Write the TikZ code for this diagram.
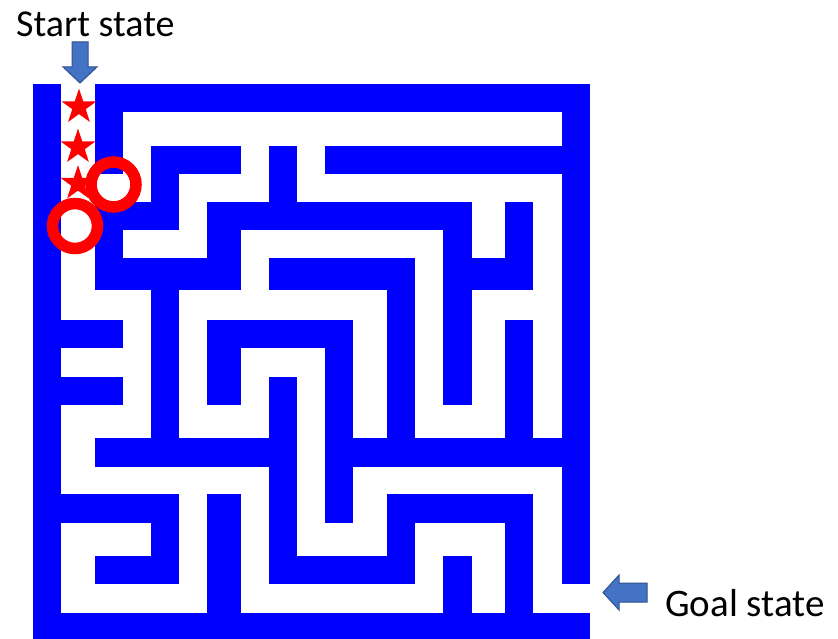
\documentclass[tikz,border=0pt]{standalone}
\usepackage{fontspec}
\setmainfont{Carlito}
\definecolor{mazeblue}{RGB}{0,0,255}
\definecolor{arrowfill}{HTML}{4472C4}
\definecolor{arrowline}{HTML}{2F528F}
\begin{document}
\begin{tikzpicture}[x=1pt,y=1pt,
  wallcell/.style={fill=mazeblue},
  blockarrow/.style={fill=arrowfill,draw=arrowline,line width=1pt,line join=miter},
  pathstar/.style={fill=red},
  frontier/.style={draw=red,line width=11.5pt},
  label/.style={anchor=base west,inner sep=0pt,text=black}]
\useasboundingbox (0,0) rectangle (838,-639);
\def\XS{{33,61,95,123,151,179,207,241,269,297,325,353,387,415,443,472,505,533,562,590}}
\def\YS{{84,112,146,174,202,230,258,290,320,348,377,405,438,467,494,523,556,584,613,639}}
% maze walls: row/first column/last column
\foreach \r/\a/\b in {
 0/0/0, 0/2/18,
 1/0/0, 1/2/2, 1/18/18,
 2/0/0, 2/2/2, 2/4/6, 2/8/8, 2/10/18,
 3/0/0, 3/4/4, 3/8/8, 3/18/18,
 4/0/0, 4/2/4, 4/6/14, 4/16/16, 4/18/18,
 5/0/0, 5/2/2, 5/6/6, 5/14/14, 5/16/16, 5/18/18,
 6/0/0, 6/2/6, 6/8/12, 6/14/16, 6/18/18,
 7/0/0, 7/4/4, 7/12/12, 7/14/14, 7/18/18,
 8/0/2, 8/4/4, 8/6/10, 8/12/12, 8/14/14, 8/16/16, 8/18/18,
 9/0/0, 9/4/4, 9/6/6, 9/10/10, 9/12/12, 9/14/14, 9/16/16, 9/18/18,
 10/0/2, 10/4/4, 10/6/6, 10/8/8, 10/10/10, 10/12/12, 10/14/14, 10/16/16, 10/18/18,
 11/0/0, 11/4/4, 11/8/8, 11/10/10, 11/12/12, 11/16/16, 11/18/18,
 12/0/0, 12/2/8, 12/10/18,
 13/0/0, 13/8/8, 13/10/10, 13/18/18,
 14/0/4, 14/6/6, 14/8/8, 14/10/10, 14/12/16, 14/18/18,
 15/0/0, 15/4/4, 15/6/6, 15/8/8, 15/12/12, 15/16/16, 15/18/18,
 16/0/0, 16/2/4, 16/6/6, 16/8/12, 16/14/14, 16/16/16, 16/18/18,
 17/0/0, 17/6/6, 17/14/14, 17/16/16,
 18/0/18}{
  \pgfmathtruncatemacro\bb{\b+1}
  \pgfmathtruncatemacro\rr{\r+1}
  \pgfmathsetmacro\xa{\XS[\a]}
  \pgfmathsetmacro\xb{\XS[\bb]}
  \pgfmathsetmacro\ya{\YS[\r]}
  \pgfmathsetmacro\yb{\YS[\rr]}
  \fill[wallcell] (\xa,-\ya) rectangle (\xb,-\yb);
}
% stars along the path
\foreach \sx/\sy in {79/107, 78/147, 78/183.5}{
  \fill[pathstar,shift={(\sx,-\sy)}] (90:18.5pt) -- (126:7.1pt) -- (162:18.5pt) -- (198:7.1pt) -- (234:18.5pt) -- (270:7.1pt) -- (306:18.5pt) -- (342:7.1pt) -- (18:18.5pt) -- (54:7.1pt) -- cycle;
}
% frontier rings
\coordinate (ringA) at (113.5,-184.5);
\coordinate (ringB) at (75,-226);
\draw[frontier] (ringA) circle[radius=22.5pt];
\draw[frontier] (ringB) circle[radius=22.5pt];
% labels
\node[label,font=\fontsize{38}{42}\selectfont] (start) at (16,-37) {Start state};
\node[label,font=\fontsize{39}{43}\selectfont] (goal) at (665,-616) {Goal state};
% block arrows
\draw[blockarrow] (72,-42) -- (88,-42) -- (88,-67) -- (97,-67) -- (80,-83) -- (63,-67) -- (72,-67) -- cycle;
\draw[blockarrow] (647,-583) -- (619,-583) -- (619,-575) -- (603,-592.5) -- (619,-610) -- (619,-602) -- (647,-602) -- cycle;
\end{tikzpicture}
\end{document}
